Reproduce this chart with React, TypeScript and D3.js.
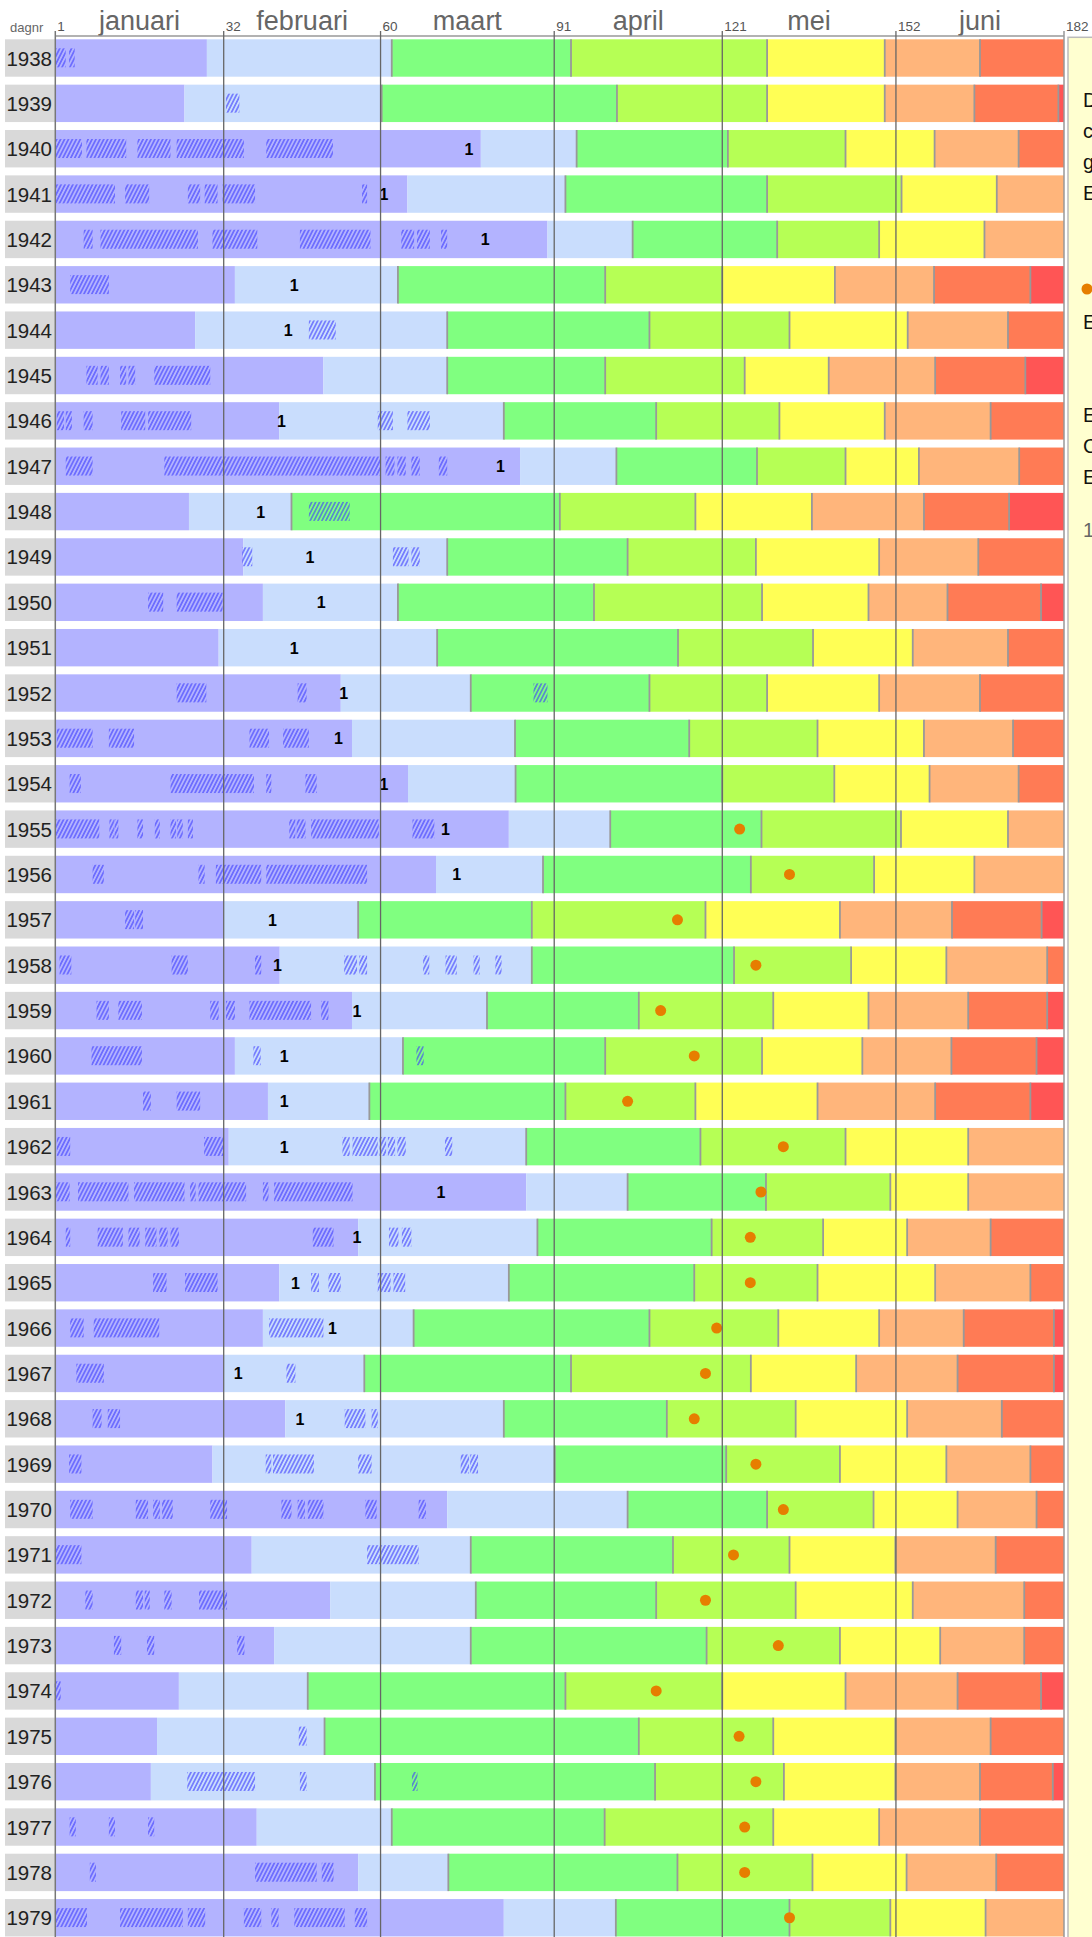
import React from 'react';
import * as d3 from 'd3';

// jaren 1938 .. 1979
const years = d3.range(1938, 1980);

// einddag van elke fase: paars, lichtblauw, groen, geelgroen, geel, lichtoranje, oranje (rood tot 182)
const phaseEnds = [
  [29, 62, 94, 129, 150, 167, 182],
  [25, 60.2, 102.2, 129, 150, 166, 181],
  [77.9, 95, 122, 143, 158.9, 173.9, 182],
  [64.8, 93, 129, 153, 170, 182, 182],
  [89.8, 105, 130.8, 149, 167.8, 182, 182],
  [34, 63.1, 100.1, 121, 141.1, 158.8, 176],
  [26.9, 71.9, 108, 133, 154.1, 172, 182],
  [49.8, 71.9, 100.1, 125, 140, 159, 175.1],
  [41.9, 82, 109.2, 131.2, 150, 168.9, 182],
  [84.9, 102.1, 127.2, 143, 156.1, 174, 182],
  [25.8, 44.1, 92, 116.2, 137, 157, 172.2],
  [35.5, 71.9, 104.1, 127, 149, 166.7, 182],
  [39, 63.1, 98.1, 128.1, 147.1, 161.2, 177.9],
  [31.1, 70.1, 113.1, 137.2, 155, 172, 182],
  [52.9, 76.1, 108, 129, 149, 167, 182],
  [54.9, 84, 115.1, 138, 157, 172.9, 182],
  [64.9, 84.1, 121, 141, 158, 173.9, 182],
  [82.9, 101, 128, 152.9, 172, 182, 182],
  [69.9, 89, 126.1, 148.1, 166, 182, 182],
  [31.9, 56, 87, 118, 142, 162, 178],
  [42, 87, 123.1, 144, 161, 179, 182],
  [54.9, 79, 106.1, 130.1, 147.1, 164.9, 179],
  [34, 64, 100.1, 128.1, 146, 161.9, 177.1],
  [39.9, 58, 93, 116.2, 138, 159, 176],
  [32.9, 86, 117.1, 143, 164.9, 182, 182],
  [86, 104.1, 128.8, 151, 164.9, 182, 182],
  [56, 88, 119.1, 139, 154, 168.9, 182],
  [41.9, 82.9, 116, 138, 159, 176, 182],
  [39, 65.9, 108, 131, 149, 164.1, 180.2],
  [32, 57.1, 94, 126.1, 144.9, 163, 180.2],
  [43, 82, 111.1, 134.1, 154, 170.9, 182],
  [30, 91.1, 121.7, 142, 161, 176, 182],
  [71.9, 104.1, 129, 148, 163, 177.1, 182],
  [37, 76.1, 112.2, 133, 151.9, 169.8, 182],
  [51, 77, 109.2, 134.1, 155, 174.9, 182],
  [41, 76.1, 118.2, 142, 159.9, 174.9, 182],
  [24, 47, 93, 121, 143, 163, 177.9],
  [20.1, 50, 106.1, 130.1, 151.9, 168.9, 182],
  [19, 59, 109, 132, 151.9, 167, 180],
  [37.9, 62, 100, 130.1, 149, 167, 182],
  [56, 72.1, 113, 137.1, 153.9, 169.9, 182],
  [82, 102, 133, 151, 168, 182, 182],
];

// vorstperiodes (gearceerd), [van, tot] in dagnummers
const frostSpells = [
  [[2, 3.8], [4.4, 5.4]],
  [[32.4, 34.8]],
  [[2, 6.7], [7.5, 14.6], [16.6, 22.5], [23.6, 35.6], [39.6, 51.5]],
  [[2, 12.6], [14.4, 18.7], [25.6, 27.8], [28.6, 30.9], [31.8, 37.6], [56.7, 57.6]],
  [[7, 8.6], [10, 27.4], [30, 38], [45.6, 58.2], [63.7, 66], [66.5, 68.8], [70.8, 71.9]],
  [[4.6, 11.5]],
  [[47.2, 52]],
  [[7.5, 9.5], [10, 11.5], [13.5, 14.6], [15, 16.2], [19.6, 29.6]],
  [[2.2, 3.5], [3.8, 4.9], [7, 8.6], [13.7, 18], [18.5, 26.2], [59.5, 62.2], [64.8, 68.8]],
  [[3.8, 8.6], [21.4, 60], [60.9, 62.5], [63, 64.5], [65.5, 67], [70.4, 71.9]],
  [[47.2, 54.5]],
  [[35.3, 37.1], [62.2, 65], [65.5, 67]],
  [[18.5, 21.2], [23.6, 31.8]],
  [],
  [[23.6, 28.9], [45.2, 46.8], [87.3, 89.8]],
  [[2.2, 8.6], [11.5, 16], [36.6, 40.1], [42.6, 47.2]],
  [[4.5, 6.5], [22.5, 37.4], [39.6, 40.5], [46.6, 48.6]],
  [[2, 9.8], [11.6, 12.4], [12.5, 13.2], [16.6, 17.6], [19.7, 20.6], [22.5, 23.5], [23.7, 24.7], [25.6, 26.5], [43.7, 44.8], [45, 46.6], [47.6, 59.7], [65.7, 69.6]],
  [[8.6, 10.6], [27.5, 28.6], [30.6, 38.7], [39.6, 57.6]],
  [[14.4, 16], [16.2, 17.6]],
  [[2.7, 4.8], [22.7, 25.6], [37.6, 38.7], [53.5, 55.8], [56.2, 57.6], [67.6, 68.7], [71.6, 73.6], [76.6, 77.7], [80.5, 81.6]],
  [[9.3, 11.5], [13.2, 17.4], [29.6, 31.1], [32.4, 34], [36.6, 47.6], [49.4, 50.7]],
  [[8.4, 17.4], [37.3, 38.6], [66.4, 67.7]],
  [[17.6, 19], [23.6, 27.8]],
  [[2.2, 4.6], [28.5, 32], [53.2, 54.5], [55, 59.5], [59.8, 61], [61.3, 62.6], [63, 64.5], [71.5, 72.8]],
  [[2, 4.5], [6, 15], [16, 25], [26, 27], [27.5, 36], [39, 40], [41, 55]],
  [[3.8, 4.6], [9.5, 14], [15, 17], [18, 20], [20.5, 22], [22.5, 24], [47.9, 51.6], [61.5, 63.2], [63.8, 65.5]],
  [[19.4, 21.8], [25.1, 30.9], [47.6, 49], [50.7, 52.9], [59.5, 61.8], [62.3, 64.4]],
  [[4.6, 7], [8.8, 20.5], [40.1, 49.8]],
  [[5.7, 10.6], [43.2, 44.8]],
  [[8.6, 10.2], [11.3, 13.5], [53.6, 57.3], [58.4, 59.5]],
  [[4.4, 6.6], [39.5, 40.5], [40.8, 48.1], [56, 58.4], [74.3, 75.8], [76, 77.4]],
  [[4.6, 8.6], [16.3, 18.5], [19.4, 20.6], [21, 22.9], [29.6, 32.6], [42.3, 44.1], [45.2, 46.5], [47, 49.8], [57.3, 59.3], [66.8, 68.1]],
  [[2, 6.6], [57.6, 66.8]],
  [[7.3, 8.6], [16.3, 17.6], [17.9, 18.8], [21.4, 22.7], [27.6, 32.6]],
  [[12.4, 13.7], [18.3, 19.6], [34.4, 35.7]],
  [[1.8, 2.9]],
  [[45.4, 46.8]],
  [[25.5, 37.6], [45.6, 46.8], [65.6, 66.6]],
  [[4.5, 5.6], [11.5, 12.6], [18.5, 19.6]],
  [[8.1, 9.2], [37.6, 48.6], [49.5, 51.6]],
  [[2, 7.6], [13.5, 24.7], [25.6, 28.7], [35.6, 38.7], [40.5, 41.8], [44.6, 53.6], [55.4, 57.6]],
];

// dag met label "1"
const firstMarks = [
  null, null, 75.8, 60.6, 78.7, 44.6, 43.5, null, 42.3, 81.4,
  38.6, 47.4, 49.4, 44.6, 53.4, 52.5, 60.6, 71.6, 73.6, 40.7,
  41.6, 55.8, 42.8, 42.8, 42.8, 70.8, 55.8, 44.8, 51.4, 34.6,
  45.6, null, null, null, null, null, null, null, null, null,
  null, null,
];

// oranje stip
const dotDays = [
  null, null, null, null, null, null, null, null, null, null,
  null, null, null, null, null, null, null, 124.1, 133, 113,
  127, 110, 116, 104.1, 131.9, 127.9, 126, 126, 120, 118,
  116, 127, 131.9, 123, 118, 131, 109.2, 124, 127, 125,
  125, 133,
];

const monthNames = ['januari', 'februari', 'maart', 'april', 'mei', 'juni'];
const monthStarts = [1, 32, 60, 91, 121, 152, 182];

const phaseColors = ['#b3b3ff', '#c9ddfd', '#80ff80', '#b6ff55', '#ffff55', '#ffb57b', '#ff7b55', '#ff5555'];

const legendLines = [
  'De kleuren geven de',
  'cumulatieve warmtesom',
  'gedurende het voorjaar.',
  'Elke kleur is een trap.',
];
const legendLines2 = ['Eerste zomerse dag.'];
const legendLines3 = ['Eerste vorstvrije', 'Cijfer 1: laatste', 'Elfstedentocht-ijs'];
const legendLines4 = ['1 = eerste dooidag'];

const FONT = "'Liberation Sans', Arial, sans-serif";

export default function App() {
  const width = 1092;
  const height = 1937;
  const left = 55.3;
  const right = 1064;
  const top0 = 39.3;
  const pitch = 45.36;
  const barH = 37.4;

  // lineaire dagschaal; linkerrand valt op dag 2
  const x = d3.scaleLinear().domain([32, 182]).range([223.7, right]);
  const y = (i: number) => top0 + i * pitch;
  const xs = (v: number) => Math.max(left, x(v));

  return (
    <div style={{ position: 'absolute', left: 0, top: 0 }}>
      <svg width={width} height={height} style={{ display: 'block', fontFamily: FONT }}>
        <defs>
          <pattern id="hatch" width={3.5} height={10} patternUnits="userSpaceOnUse" patternTransform="rotate(27)">
            <line x1={1.75} y1={0} x2={1.75} y2={10} stroke="#3d3dff" strokeWidth={1.05} />
          </pattern>
        </defs>

        {/* kop */}
        <text x={10} y={32} fontSize={13} fill="#666">dagnr</text>
        {monthNames.map((m, i) => (
          <text key={m} x={(xs(monthStarts[i]) + xs(monthStarts[i + 1])) / 2} y={29.5}
            fontSize={27} fill="#666" textAnchor="middle">{m}</text>
        ))}
        {monthStarts.map((d) => (
          <text key={d} x={xs(d) + 2} y={31} fontSize={13.5} fill="#555">{d}</text>
        ))}
        <line x1={left} x2={right} y1={36} y2={36} stroke="#999" strokeWidth={1.6} />

        {years.map((yr, i) => {
          const t = y(i);
          const ends = phaseEnds[i];
          const starts = [2, ...ends];
          const segs = phaseColors.map((c, k) => ({
            a: starts[k], b: k < 7 ? ends[k] : 182, c,
          })).filter((s) => s.b > s.a);
          return (
            <g key={yr}>
              <rect x={5} y={t} width={50} height={barH} fill="#d9d9d9" />
              <text x={52} y={t + barH / 2 + 7.5} fontSize={20.5} fill="#222" textAnchor="end">{yr}</text>
              {segs.map((s, k) => (
                <rect key={k} x={xs(s.a)} y={t} width={xs(s.b) - xs(s.a)} height={barH} fill={s.c} />
              ))}
              {ends.slice(1).filter((e) => e < 182).map((e, k) => (
                <line key={k} x1={xs(e)} x2={xs(e)} y1={t} y2={t + barH} stroke="#999" strokeWidth={1.8} />
              ))}
              {frostSpells[i].map(([a, b], k) => (
                <rect key={k} x={x(a)} y={t + 9} width={x(b) - x(a)} height={19} fill="url(#hatch)" />
              ))}
              {firstMarks[i] != null && (
                <text x={x(firstMarks[i] as number)} y={t + barH / 2 + 6} fontSize={16}
                  fontWeight="bold" fill="#000" textAnchor="middle">1</text>
              )}
              {dotDays[i] != null && (
                <circle cx={x(dotDays[i] as number)} cy={t + barH / 2} r={5.5} fill="#e67e00" />
              )}
            </g>
          );
        })}

        {/* maandlijnen */}
        {monthStarts.slice(1, 6).map((d) => (
          <line key={d} x1={x(d)} x2={x(d)} y1={31} y2={height} stroke="#666" strokeWidth={1.3} />
        ))}
        <line x1={left} x2={left} y1={31} y2={height} stroke="#777" strokeWidth={1.5} />
        <line x1={right} x2={right} y1={31} y2={height} stroke="#999" strokeWidth={1.5} />

        {/* legenda */}
        <rect x={1068} y={37.3} width={60} height={height} fill="#ffffd0" stroke="#bbb" strokeWidth={1.5} />
        {legendLines.map((s, k) => (
          <text key={s} x={1083} y={107 + k * 31} fontSize={20} fill="#111">{s}</text>
        ))}
        <circle cx={1087} cy={289} r={5.5} fill="#e67e00" />
        {legendLines2.map((s) => (
          <text key={s} x={1083} y={329} fontSize={20} fill="#111">{s}</text>
        ))}
        {legendLines3.map((s, k) => (
          <text key={s} x={1083} y={422 + k * 31} fontSize={20} fill="#111">{s}</text>
        ))}
        {legendLines4.map((s) => (
          <text key={s} x={1083} y={537} fontSize={20} fill="#666">{s}</text>
        ))}
      </svg>
    </div>
  );
}
